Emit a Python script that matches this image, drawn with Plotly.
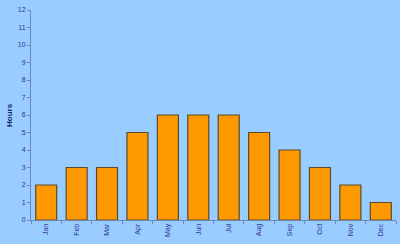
import plotly.graph_objects as go

months = ["Jan", "Feb", "Mar", "Apr", "May", "Jun", "Jul", "Aug", "Sep", "Oct", "Nov", "Dec"]
hours = [2, 3, 3, 5, 6, 6, 6, 5, 4, 3, 2, 1]
y_ticks = list(range(0, 13))

fig = go.Figure(go.Bar(
    x=months, y=hours,
    marker=dict(color="#FF9900", line=dict(color="#5a4a2a", width=1.2)),
))
fig.update_layout(
    width=400, height=244,
    margin=dict(l=31, r=4, t=10, b=24),
    paper_bgcolor="#99CCFF", plot_bgcolor="#99CCFF",
    bargap=0.31, showlegend=False,
    font=dict(family="Arial, Liberation Sans", color="#333399", size=7),
    annotations=[dict(
        text="<b>Hours</b>", xref="paper", yref="paper", x=-22 / 365, y=0.5,
        xanchor="center", yanchor="middle", textangle=-90, showarrow=False,
        font=dict(size=8, color="#1a1a66"),
    )],
)
fig.update_xaxes(
    tickangle=-90, showline=True, linecolor="#6f86b8", linewidth=1,
    ticks="outside", ticklen=3, tickcolor="#6f86b8", tickson="boundaries",
    showgrid=False, tickfont=dict(size=7, color="#333399"), automargin=False,
)
fig.update_yaxes(
    range=[0, 12], tickvals=y_ticks, showline=True, linecolor="#6f86b8", linewidth=1,
    ticks="outside", ticklen=3, tickcolor="#6f86b8", showgrid=False, zeroline=False,
    tickfont=dict(size=7, color="#333399"), automargin=False,
)
fig.write_html("out.html")
